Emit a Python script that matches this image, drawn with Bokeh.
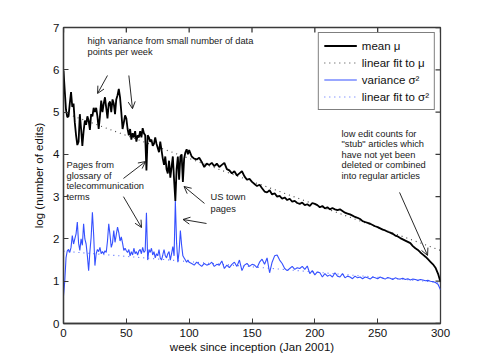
import math
from bokeh.plotting import figure
from bokeh.models import (ColumnDataSource, Range1d, Legend, LegendItem,
                          Arrow, OpenHead, FixedTicker)
from bokeh.core.properties import value
from bokeh.embed import file_html
from bokeh.resources import INLINE

# ---------------- data ----------------
weeks_early = list(range(0, 101))
mean_early = [5.98, 5.5, 5.05, 4.88, 4.9, 5.2, 5.47, 5.12, 5.2, 4.75,
              4.45, 4.22, 4.3, 4.95, 4.6, 4.2, 4.55, 4.8, 4.7, 4.9,
              4.8, 4.58, 4.95, 4.9, 5.1, 5.0, 5.1, 4.9, 4.6, 4.9,
              5.27, 5.0, 5.2, 5.35, 5.1, 4.85, 5.2, 5.25, 5.0, 5.3,
              5.2, 4.95, 5.3, 5.4, 5.55, 5.35, 5.0, 4.6, 4.75, 4.92,
              4.85, 4.6, 4.45, 4.6, 4.35, 4.5, 4.4, 4.55, 4.3, 4.45,
              4.4, 4.55, 4.4, 4.62, 4.5, 4.45, 3.62, 4.45, 4.4, 4.3,
              4.35, 4.2, 4.25, 4.4, 4.25, 4.15, 4.05, 4.3, 4.1, 3.9,
              3.75, 3.95, 3.65, 3.55, 3.85, 3.45, 3.7, 3.95, 3.4, 2.9,
              3.65, 3.95, 3.4, 3.95, 4.0, 3.35, 3.9, 4.05, 4.12, 4.0, 4.1]
var_early = [0.66, 1.0, 1.55, 1.72, 1.75, 1.68, 1.8, 2.08, 1.88, 2.0,
             2.12, 2.4, 1.9, 1.73, 2.0, 1.85, 2.36, 2.0, 1.88, 1.6,
             1.25, 1.7, 2.04, 2.63, 2.1, 1.37, 1.65, 1.75, 1.7, 1.8,
             1.65, 1.7, 1.65, 1.72, 1.68, 1.95, 2.36, 2.1, 1.8, 1.9,
             2.2, 1.92, 2.1, 2.28, 2.15, 1.95, 2.05, 1.9, 1.73, 1.78,
             1.72, 1.68, 1.75, 1.6, 1.7, 1.62, 1.78, 1.65, 1.7, 1.62,
             1.72, 1.75, 1.65, 1.8, 1.68, 1.72, 2.62, 1.5, 1.75, 1.68,
             1.78, 1.62, 1.7, 1.55, 1.65, 1.6, 1.75, 1.55, 1.5, 1.62,
             1.75, 1.6, 1.55, 1.65, 1.7, 1.5, 1.65, 1.82, 1.6, 2.9,
             1.9, 1.45, 1.7, 2.2, 1.85, 1.6, 1.55, 1.5, 1.45, 1.5, 1.45]

weeks_late = list(range(102, 301, 2))
mean_late = [3.95, 3.9, 3.88, 3.92, 3.82, 3.7, 3.78, 3.75, 3.8, 3.72,
             3.78, 3.7, 3.75, 3.8, 3.65, 3.62, 3.55, 3.6, 3.5, 3.55,
             3.6, 3.48, 3.4, 3.42, 3.35, 3.3, 3.25, 3.28, 3.2, 3.12,
             3.1, 3.15, 3.05, 3.08, 3.0, 3.02, 2.95, 2.98, 2.92, 2.95,
             2.88, 2.9, 2.85, 2.83, 2.86, 2.8, 2.82, 2.78, 2.85, 2.83,
             2.8, 2.75, 2.78, 2.72, 2.75, 2.7, 2.73, 2.7, 2.68, 2.7,
             2.66, 2.62, 2.6, 2.58, 2.55, 2.52, 2.5, 2.47, 2.42, 2.4,
             2.38, 2.36, 2.33, 2.3, 2.28, 2.25, 2.22, 2.2, 2.17, 2.15,
             2.12, 2.08, 2.06, 2.02, 1.99, 1.96, 1.93, 1.9, 1.83, 1.78,
             1.74, 1.68, 1.63, 1.58, 1.52, 1.46, 1.4, 1.32, 1.18, 0.98]
var_late = [1.42, 1.38, 1.45, 1.4, 1.35, 1.42, 1.38, 1.4, 1.45, 1.35,
            1.4, 1.38, 1.48, 1.3, 1.38, 1.32, 1.4, 1.45, 1.35, 1.5,
            1.25, 1.38, 1.42, 1.35, 1.4, 1.38, 1.32, 1.45, 1.52, 1.4,
            1.55, 1.2, 1.45, 1.6, 1.62, 1.5, 1.42, 1.3, 1.25, 1.3,
            1.35, 1.28, 1.32, 1.3, 1.35, 1.28, 1.36, 1.18, 1.25, 1.15,
            1.22, 1.2, 1.1, 1.18, 1.12, 1.15, 1.1, 1.2, 1.12, 1.1,
            1.18, 1.08, 1.12, 1.1, 1.06, 1.12, 1.08, 1.1, 1.06, 1.1,
            1.08, 1.05, 1.1, 1.08, 1.06, 1.1, 1.07, 1.05, 1.09, 1.07,
            1.04, 1.08, 1.06, 1.05, 1.07, 1.04, 1.06, 1.03, 1.05, 1.04,
            1.02, 1.04, 1.03, 1.01, 1.02, 1.0, 0.99, 0.97, 0.93, 0.8]

fit_weeks = [0, 300]
fit_mu = [4.99, 1.73]
fit_var = [1.71, 0.97]

x_ticks = [0, 50, 100, 150, 200, 250, 300]
y_ticks = [0, 1, 2, 3, 4, 5, 6, 7]

weeks = weeks_early + weeks_late
mean_mu = mean_early + mean_late
var_s2 = var_early + var_late

FONT = "Liberation Sans"
AXC = "#3a3a3a"
BLUE = "#3550ff"

p = figure(width=477, height=356, output_backend="svg", toolbar_location=None,
           x_range=Range1d(0, 300), y_range=Range1d(0, 7),
           min_border_left=63, min_border_right=37, min_border_top=27, min_border_bottom=33)
p.background_fill_color = "white"
p.border_fill_color = "white"
p.outline_line_color = AXC
p.outline_line_width = 1.3
p.xgrid.visible = False
p.ygrid.visible = False

src = ColumnDataSource(dict(w=weeks, mu=mean_mu, s2=var_s2))
fsrc = ColumnDataSource(dict(w=fit_weeks, mu=fit_mu, s2=fit_var))

r_fit_mu = p.line("w", "mu", source=fsrc, line_color="#444444", line_width=1.1, line_dash="1 4")
r_fit_s2 = p.line("w", "s2", source=fsrc, line_color="#5068ff", line_width=1.1, line_dash="1 4")
r_s2 = p.line("w", "s2", source=src, line_color=BLUE, line_width=1.1)
r_mu = p.line("w", "mu", source=src, line_color="black", line_width=1.8)

p.xaxis.ticker = FixedTicker(ticks=x_ticks)
p.yaxis.ticker = FixedTicker(ticks=y_ticks)
for ax in p.xaxis + p.yaxis:
    ax.axis_line_color = AXC
    ax.axis_line_width = 1.3
    ax.major_tick_line_color = AXC
    ax.major_tick_in = 5
    ax.major_tick_out = 0
    ax.minor_tick_line_color = None
    ax.major_label_text_font = FONT
    ax.major_label_text_font_size = "11.5px"
    ax.major_label_text_color = "#111111"
    ax.axis_label_text_font = FONT
    ax.axis_label_text_font_size = "11.5px"
    ax.axis_label_text_font_style = "normal"
    ax.axis_label_text_color = "#111111"
p.xaxis.axis_label = "week since inception (Jan 2001)"
p.yaxis.axis_label = "log (number of edits)"
p.xaxis.major_label_standoff = 5
p.xaxis.axis_label_standoff = 1
p.yaxis.major_label_standoff = 4
p.yaxis.axis_label_standoff = 5

# inward ticks on the top and right frame edges (box style)
p.ray(x=x_ticks, y=[7] * len(x_ticks), length=5, length_units="screen",
      angle=-math.pi / 2, line_color=AXC, line_width=1.3)
p.ray(x=[300] * len(y_ticks), y=y_ticks, length=5, length_units="screen",
      angle=math.pi, line_color=AXC, line_width=1.3)

# ---------------- annotations ----------------
ann_x = [19.1, 19.1, 2.4, 2.4, 2.4, 2.4, 117.0, 117.0,
         221.2, 221.2, 221.2, 221.2, 221.2]
ann_y = [6.67, 6.41, 3.76, 3.50, 3.24, 2.99, 2.98, 2.70,
         4.49, 4.24, 3.99, 3.74, 3.48]
ann_text = ["high variance from small number of data", "points per week",
            "Pages from", "glossary of", "telecommunication", "terms",
            "US town", "pages",
            "low edit counts for", "\"stub\" articles which", "have not yet been",
            "deleted or combined", "into regular articles"]
p.text(x=ann_x, y=ann_y, text=ann_text, text_font=value(FONT), text_font_size="9.3px",
       text_baseline="middle", text_align="left", text_color="#1a1a1a")

arrow_tail_x = [35.0, 52.0, 47.7, 47.7, 112.2, 113.8, 267.4]
arrow_tail_y = [5.865, 5.865, 3.43, 3.00, 2.84, 2.365, 3.10]
arrow_head_x = [27.1, 54.9, 65.3, 62.1, 95.9, 95.1, 289.7]
arrow_head_y = [5.44, 5.08, 3.83, 2.27, 3.24, 2.46, 1.61]
asrc = ColumnDataSource(dict(x0=arrow_tail_x, y0=arrow_tail_y, x1=arrow_head_x, y1=arrow_head_y))
p.add_layout(Arrow(source=asrc, x_start="x0", y_start="y0", x_end="x1", y_end="y1",
                   line_color="#111111", line_width=0.9,
                   end=OpenHead(size=7, line_color="#111111", line_width=0.9)))

legend = Legend(items=[
    LegendItem(label="mean μ", renderers=[r_mu]),
    LegendItem(label="linear fit to μ", renderers=[r_fit_mu]),
    LegendItem(label="variance σ²", renderers=[r_s2]),
    LegendItem(label="linear fit to σ²", renderers=[r_fit_s2]),
], location="top_right")
legend.label_text_font = FONT
legend.label_text_font_size = "11.5px"
legend.label_text_color = "#111111"
legend.glyph_width = 33
legend.glyph_height = 15
legend.label_height = 15
legend.spacing = 2
legend.padding = 5
legend.margin = 5
legend.label_standoff = 5
legend.border_line_color = "black"
legend.border_line_width = 1
legend.background_fill_alpha = 1
p.add_layout(legend, "center")

open("out.html", "w").write(file_html(p, INLINE))
